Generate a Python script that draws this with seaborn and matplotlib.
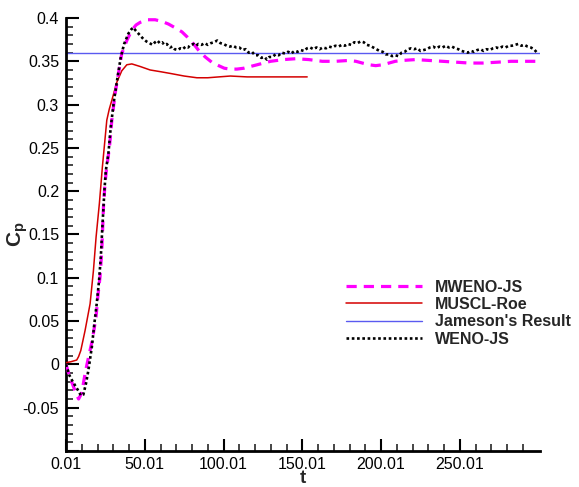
import matplotlib
matplotlib.use("Agg")
import matplotlib.pyplot as plt
import seaborn as sns
import pandas as pd
from matplotlib.ticker import FixedLocator

# ---------------- data ----------------
mweno_t = [0.01, 2, 4, 6, 8, 10, 12, 13.2, 15, 16.7, 19.1, 20.2, 21.6, 22.7, 23.8, 24.8,
           25.9, 27.6, 29.1, 31.2, 33.3, 35.4, 38.6, 41.8, 44.5, 47.1, 52, 56.6, 61, 65.1,
           69, 73.6, 77, 81, 84.5, 88.4, 92.5, 96.9, 100.5, 104.3, 108.5, 112.8, 117, 121.3,
           125.5, 129.8, 134, 138.2, 145.7, 154.1, 162.7, 171.1, 179.6, 184, 188.1, 192.5,
           196.6, 201, 205, 209, 213.5, 222, 230.5, 239, 247.5, 256, 264.4, 274, 282.5,
           290.9, 299]
mweno_cp = [0.000, -0.012, -0.022, -0.032, -0.040, -0.033, -0.012, -0.001, 0.014, 0.028,
            0.055, 0.078, 0.101, 0.130, 0.182, 0.210, 0.228, 0.251, 0.282, 0.313, 0.336,
            0.359, 0.374, 0.386, 0.392, 0.395, 0.398, 0.398, 0.396, 0.393, 0.389, 0.384,
            0.378, 0.370, 0.362, 0.355, 0.349, 0.345, 0.342, 0.341, 0.341, 0.342, 0.344,
            0.346, 0.348, 0.350, 0.351, 0.352, 0.353, 0.352, 0.350, 0.350, 0.351, 0.350,
            0.348, 0.346, 0.345, 0.346, 0.348, 0.350, 0.351, 0.352, 0.351, 0.350, 0.349,
            0.348, 0.348, 0.349, 0.350, 0.350, 0.350]

muscl_t = [0.01, 3, 6.8, 8, 9.4, 12.1, 15.3, 17.4, 19.1, 21.2, 23.1, 25.9, 27.5, 29.1, 32.3,
           35.4, 38.6, 41.8, 47.1, 53.4, 60, 66.2, 75, 83.1, 90, 97, 104.3, 115, 125.5, 140,
           153.1]
muscl_cp = [0.002, 0.003, 0.005, 0.009, 0.016, 0.039, 0.070, 0.108, 0.147, 0.186, 0.228,
            0.282, 0.295, 0.305, 0.326, 0.339, 0.346, 0.347, 0.344, 0.340, 0.338, 0.336,
            0.333, 0.331, 0.331, 0.332, 0.333, 0.332, 0.332, 0.332, 0.332]

jameson_t = [0.01, 301]
jameson_cp = [0.36, 0.36]

weno_t = [0.01, 2, 4, 6, 8, 9.5, 11, 12.7, 14.2, 16.4, 18, 19.5, 21, 22.1, 23.1, 24.4, 25.3,
          26.9, 28.4, 30.5, 32.6, 34.8, 36.9, 39.6, 41.5, 42.8, 44, 45.5, 47, 49, 51, 53, 55,
          56.5, 58, 59.5, 61, 62.5, 64, 66, 67.5, 69, 71, 72.5, 74, 76, 77.5, 79, 81, 82.5,
          84, 86, 88, 90, 92, 94, 96, 98, 100, 102, 104, 106, 108, 110, 112, 114, 116, 118,
          120, 122, 124, 126, 127.5, 129, 131, 133, 135, 137, 139, 141, 143, 145, 147, 149,
          151, 153, 155, 157, 159, 161, 163, 165, 167, 169, 171, 173, 175, 177, 179, 181,
          183, 185, 187, 189, 191, 193, 195, 197, 199, 201, 203, 205, 207, 209, 211, 213,
          215, 217, 219, 221, 223, 225, 227, 229, 231, 233, 235, 237, 239, 241, 243, 245,
          247, 249, 251, 253, 255, 257, 259, 261, 263, 265, 267, 269, 271, 273, 275, 277,
          279, 281, 283, 285, 287, 289, 291, 293, 295, 297, 299]
weno_cp = [0.000, -0.012, -0.019, -0.025, -0.031, -0.036, -0.035, -0.022, -0.007, 0.020,
           0.047, 0.070, 0.097, 0.124, 0.159, 0.201, 0.224, 0.243, 0.274, 0.305, 0.330,
           0.355, 0.370, 0.382, 0.387, 0.389, 0.386, 0.383, 0.380, 0.376, 0.373, 0.371,
           0.369, 0.372, 0.374, 0.371, 0.372, 0.369, 0.370, 0.366, 0.367, 0.364, 0.363,
           0.365, 0.364, 0.367, 0.366, 0.369, 0.370, 0.368, 0.370, 0.369, 0.371, 0.369,
           0.371, 0.372, 0.374, 0.371, 0.370, 0.368, 0.367, 0.368, 0.366, 0.366, 0.363,
           0.364, 0.360, 0.361, 0.357, 0.357, 0.354, 0.355, 0.352, 0.355, 0.355, 0.358,
           0.357, 0.360, 0.359, 0.361, 0.359, 0.362, 0.361, 0.363, 0.362, 0.365, 0.366,
           0.364, 0.366, 0.364, 0.366, 0.365, 0.367, 0.366, 0.368, 0.367, 0.369, 0.368,
           0.370, 0.369, 0.372, 0.371, 0.373, 0.372, 0.369, 0.368, 0.366, 0.364, 0.362,
           0.361, 0.358, 0.358, 0.356, 0.357, 0.356, 0.360, 0.361, 0.364, 0.365, 0.364,
           0.365, 0.362, 0.363, 0.364, 0.366, 0.367, 0.365, 0.367, 0.366, 0.368, 0.366,
           0.367, 0.365, 0.364, 0.362, 0.361, 0.360, 0.362, 0.361, 0.363, 0.364, 0.362,
           0.364, 0.363, 0.365, 0.366, 0.365, 0.367, 0.366, 0.368, 0.368, 0.369, 0.370,
           0.368, 0.369, 0.367, 0.366, 0.364, 0.360]

x_ticks = [0.01, 50.01, 100.01, 150.01, 200.01, 250.01]
x_tick_labels = ["0.01", "50.01", "100.01", "150.01", "200.01", "250.01"]
x_minor = [10.01, 20.01, 30.01, 40.01, 60.01, 70.01, 80.01, 90.01, 110.01, 120.01, 130.01,
           140.01, 160.01, 170.01, 180.01, 190.01, 210.01, 220.01, 230.01, 240.01, 260.01,
           270.01, 280.01, 290.01]
y_ticks = [-0.1, -0.05, 0, 0.05, 0.1, 0.15, 0.2, 0.25, 0.3, 0.35, 0.4]
y_tick_labels = ["", "-0.05", "0", "0.05", "0.1", "0.15", "0.2", "0.25", "0.3", "0.35", "0.4"]
y_minor = [v / 100 for v in range(-10, 41) if v % 5 != 0]

# ---------------- style ----------------
sns.set_style("ticks")
plt.rcParams["font.family"] = ["Liberation Sans", "DejaVu Sans"]
plt.rcParams["mathtext.fontset"] = "custom"
plt.rcParams["mathtext.rm"] = "Liberation Sans"
plt.rcParams["mathtext.bf"] = "Liberation Sans:bold"
plt.rcParams["mathtext.it"] = "Liberation Sans:italic"

fig, ax = plt.subplots(figsize=(5.79, 4.87), dpi=100)
fig.subplots_adjust(left=0.114, right=0.933, bottom=0.074, top=0.963)

df_m = pd.DataFrame({"t": mweno_t, "cp": mweno_cp})
df_r = pd.DataFrame({"t": muscl_t, "cp": muscl_cp})
df_j = pd.DataFrame({"t": jameson_t, "cp": jameson_cp})
df_w = pd.DataFrame({"t": weno_t, "cp": weno_cp})

sns.lineplot(data=df_j, x="t", y="cp", ax=ax, color="#5a5af0", lw=1.0,
             label="Jameson's Result", zorder=2)
sns.lineplot(data=df_r, x="t", y="cp", ax=ax, color="#d40000", lw=1.1,
             label="MUSCL-Roe", zorder=3)
sns.lineplot(data=df_m, x="t", y="cp", ax=ax, color="#ff00ff", lw=2.3,
             label="MWENO-JS", zorder=4)
ax.lines[-1].set_dashes((3.2, 2.2))
sns.lineplot(data=df_w, x="t", y="cp", ax=ax, color="black", lw=1.9,
             label="WENO-JS", zorder=5)
ax.lines[-1].set_dashes((1.0, 1.0))

ax.set_xlim(0.01, 301)
ax.set_ylim(-0.1, 0.4)

ax.xaxis.set_major_locator(FixedLocator(x_ticks))
ax.set_xticklabels(x_tick_labels)
ax.xaxis.set_minor_locator(FixedLocator(x_minor))
ax.yaxis.set_major_locator(FixedLocator(y_ticks))
ax.set_yticklabels(y_tick_labels)
ax.yaxis.set_minor_locator(FixedLocator(y_minor))

ax.tick_params(which="major", direction="in", length=9, width=1.5, labelsize=11.5, pad=5,
               colors="black")
ax.tick_params(axis="x", which="major", pad=4)
ax.tick_params(which="minor", direction="in", length=5, width=1.2)

for s in ["top", "right"]:
    ax.spines[s].set_visible(False)
for s in ["left", "bottom"]:
    ax.spines[s].set_linewidth(2.0)
    ax.spines[s].set_color("black")

ax.set_xlabel("t", fontsize=13.5, fontweight="bold", labelpad=-1)
ax.set_ylabel(r"$\mathbf{C_p}$", fontsize=15, labelpad=-5)

handles, labels = ax.get_legend_handles_labels()
order = ["MWENO-JS", "MUSCL-Roe", "Jameson's Result", "WENO-JS"]
hmap = dict(zip(labels, handles))
leg = ax.legend([hmap[k] for k in order], order, loc="center left",
                bbox_to_anchor=(0.59, 0.318), frameon=False, borderpad=0,
                borderaxespad=0, handlelength=4.8, handletextpad=0.8,
                labelspacing=0.15, prop={"weight": "bold", "size": 11.5})

fig.savefig("out.png", dpi=100)
